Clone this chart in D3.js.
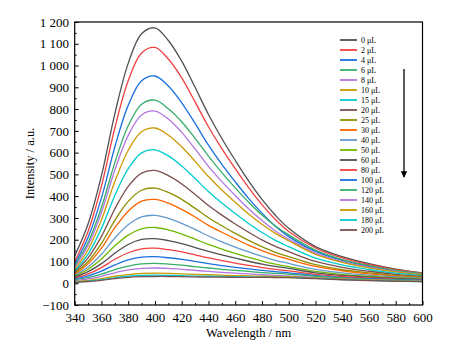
<!DOCTYPE html>
<html>
<head>
<meta charset="utf-8">
<script src="https://cdn.jsdelivr.net/npm/d3@7"></script>
<style>
  body { margin: 0; background: #fff; }
  text { font-family: "Liberation Serif", "Times New Roman", serif; fill: #000; }
</style>
</head>
<body>
<div id="container"></div>
<script>
const WIDTH = 462;
const HEIGHT = 351;
const MARGIN = {top: 22, right: 39.5, bottom: 46, left: 74.7};

const INNER_WIDTH = WIDTH - MARGIN.left - MARGIN.right;
const INNER_HEIGHT = HEIGHT - MARGIN.top - MARGIN.bottom;

// emission wavelengths (nm)
var wavelengths = [340, 350, 360, 370, 380, 390, 400, 410, 420, 430, 440,
    450, 460, 470, 480, 490, 500, 520, 540, 560, 580, 600];

// added volume, legend labels
var volumes = ["0 μL", "2 μL", "4 μL", "6 μL", "8 μL", "10 μL", "15 μL", "20 μL", "25 μL", "30 μL",
    "40 μL", "50 μL", "60 μL", "80 μL", "100 μL", "120 μL", "140 μL", "160 μL", "180 μL", "200 μL"];

// intensity (a.u.) per volume, one row per spectrum, same order as wavelengths
var intensity = [
    [125, 272, 494, 778, 1010, 1146, 1173, 1115, 1020, 900, 775, 665, 565, 470, 385, 312, 252, 168, 122, 90, 65, 48],
    [100, 238, 446, 713, 930, 1058, 1083, 1030, 943, 833, 719, 618, 526, 439, 361, 293, 238, 162, 116, 86, 62, 46],
    [88, 210, 392, 626, 817, 930, 952, 906, 829, 734, 634, 546, 466, 390, 322, 262, 214, 146, 105, 78, 56, 42],
    [80, 187, 348, 554, 723, 822, 841, 802, 742, 665, 584, 508, 438, 372, 313, 263, 222, 152, 109, 81, 59, 44],
    [72, 173, 325, 520, 679, 773, 791, 754, 693, 617, 537, 467, 403, 342, 288, 240, 202, 138, 99, 74, 54, 40],
    [62, 154, 291, 467, 611, 696, 713, 680, 627, 560, 490, 428, 372, 318, 271, 229, 195, 133, 96, 71, 52, 39],
    [56, 134, 252, 403, 526, 599, 613, 585, 539, 481, 421, 368, 320, 274, 233, 197, 168, 115, 84, 63, 46, 35],
    [50, 116, 215, 341, 445, 506, 518, 494, 456, 408, 357, 313, 272, 234, 199, 169, 145, 100, 73, 55, 41, 31],
    [45, 100, 183, 289, 376, 427, 437, 417, 385, 344, 301, 264, 229, 197, 168, 142, 122, 85, 62, 48, 36, 28],
    [40, 89, 161, 255, 331, 377, 385, 368, 339, 304, 266, 234, 204, 175, 150, 128, 110, 77, 57, 43, 33, 26],
    [36, 75, 133, 208, 269, 305, 312, 298, 275, 247, 217, 190, 166, 144, 123, 105, 91, 64, 48, 37, 29, 23],
    [32, 64, 111, 172, 221, 250, 256, 245, 226, 203, 178, 157, 137, 119, 102, 88, 76, 54, 40, 32, 25, 20],
    [28, 53, 90, 138, 178, 201, 205, 196, 182, 164, 146, 130, 115, 101, 88, 77, 68, 48, 36, 28, 22, 18],
    [24, 43, 72, 110, 140, 158, 161, 154, 144, 130, 116, 104, 92, 82, 72, 64, 57, 41, 31, 25, 19, 16],
    [20, 34, 56, 84, 107, 120, 122, 117, 110, 100, 90, 81, 73, 66, 59, 53, 48, 35, 26, 21, 17, 14],
    [16, 26, 42, 63, 79, 89, 91, 88, 83, 76, 70, 64, 59, 54, 49, 45, 42, 32, 24, 18, 15, 12],
    [12, 20, 32, 48, 61, 68, 70, 68, 64, 59, 54, 50, 46, 43, 39, 36, 34, 26, 20, 15, 12, 10],
    [8, 13, 21, 32, 40, 45, 46, 45, 43, 41, 39, 37, 35, 34, 32, 31, 30, 24, 19, 15, 12, 9],
    [6, 10, 17, 25, 32, 36, 37, 36, 35, 33, 32, 31, 30, 29, 28, 27, 27, 22, 17, 13, 10, 8],
    [4, 8, 13, 21, 27, 30, 31, 31, 30, 29, 28, 28, 27, 27, 27, 26, 26, 21, 16, 12, 9, 7]
];

var xTicks = [340, 360, 380, 400, 420, 440, 460, 480, 500, 520, 540, 560, 580, 600];
var yTicks = [-100, 0, 100, 200, 300, 400, 500, 600, 700, 800, 900, 1000, 1100, 1200];

var colors = ["#515151", "#F14040", "#1A6FDF", "#37AD6B", "#B177DE", "#CC9900",
    "#00CBCC", "#7D4E4E", "#8E8E00", "#FB6501", "#6699CC", "#6FB802"];

var translate = function (x, y) {
    return "translate(" + x + "," + y + ")";
};

var fmtY = function (v) {
    if (v < 0) return "\u2212" + Math.abs(v);
    if (v >= 1000) return Math.floor(v / 1000) + " " + String(v % 1000).padStart(3, "0");
    return String(v);
};

var createChart = function () {
    var svg = d3.select("#container")
        .append("svg")
        .attr("width", WIDTH)
        .attr("height", HEIGHT);

    var xScale = d3.scaleLinear().domain([340, 600]).range([0, INNER_WIDTH]);
    var yScale = d3.scaleLinear().domain([-100, 1200]).range([INNER_HEIGHT, 0]);

    var g = svg.append("g").attr("transform", translate(MARGIN.left, MARGIN.top));

    // minor ticks
    g.append("g")
        .attr("transform", translate(0, INNER_HEIGHT))
        .call(d3.axisBottom(xScale).tickValues(d3.range(350, 600, 20)).tickSize(-2).tickFormat(""))
        .call(function (a) { a.select(".domain").remove(); });
    g.append("g")
        .call(d3.axisLeft(yScale).tickValues(d3.range(-50, 1200, 100)).tickSize(-2).tickFormat(""))
        .call(function (a) { a.select(".domain").remove(); });

    // major ticks + labels
    g.append("g")
        .attr("transform", translate(0, INNER_HEIGHT))
        .call(d3.axisBottom(xScale).tickValues(xTicks).tickSize(-4).tickPadding(7.5))
        .call(function (a) { a.select(".domain").remove(); });
    g.append("g")
        .call(d3.axisLeft(yScale).tickValues(yTicks).tickSize(-4).tickPadding(5.7).tickFormat(fmtY))
        .call(function (a) { a.select(".domain").remove(); });

    g.selectAll(".tick text")
        .attr("font-family", "Liberation Serif")
        .attr("font-size", 13)
        .attr("fill", "#000");
    g.selectAll(".tick line").attr("stroke", "#000").attr("stroke-width", 1);

    var line = d3.line()
        .x(function (d, i) { return xScale(wavelengths[i]); })
        .y(function (d) { return yScale(d); })
        .curve(d3.curveCatmullRom);

    g.selectAll(".spectrum").data(intensity)
        .enter()
        .append("path")
        .attr("class", "spectrum")
        .attr("d", function (d) { return line(d); })
        .attr("fill", "none")
        .attr("stroke", function (d, i) { return colors[i % colors.length]; })
        .attr("stroke-width", 1.3);

    // frame
    g.append("rect")
        .attr("width", INNER_WIDTH)
        .attr("height", INNER_HEIGHT)
        .attr("fill", "none")
        .attr("stroke", "#000")
        .attr("stroke-width", 1.2);

    // legend
    var legend = svg.append("g").attr("transform", translate(340, 40));
    var item = legend.selectAll(".item").data(volumes)
        .enter()
        .append("g")
        .attr("transform", function (d, i) { return translate(0, i * 10); });
    item.append("line")
        .attr("x1", 0).attr("x2", 17)
        .attr("stroke", function (d, i) { return colors[i % colors.length]; })
        .attr("stroke-width", 1.8);
    item.append("text")
        .attr("x", 21)
        .attr("dy", "0.32em")
        .attr("font-size", 8)
        .text(function (d) { return d; });

    // arrow
    svg.append("defs").append("marker")
        .attr("id", "head")
        .attr("viewBox", "0 0 10 10")
        .attr("refX", 9).attr("refY", 5)
        .attr("markerWidth", 5).attr("markerHeight", 6)
        .attr("orient", "auto")
        .append("path")
        .attr("d", "M0,0L10,5L0,10Z")
        .attr("fill", "#000");
    svg.append("line")
        .attr("x1", 404).attr("y1", 69)
        .attr("x2", 404).attr("y2", 177)
        .attr("stroke", "#000")
        .attr("stroke-width", 1.3)
        .attr("marker-end", "url(#head)");

    // axis titles
    svg.append("text")
        .attr("x", MARGIN.left + INNER_WIDTH / 2)
        .attr("y", 337)
        .attr("text-anchor", "middle")
        .attr("font-size", 12.5)
        .text("Wavelength / nm");
    svg.append("text")
        .attr("transform", translate(34, MARGIN.top + INNER_HEIGHT / 2) + " rotate(-90)")
        .attr("text-anchor", "middle")
        .attr("font-size", 12.5)
        .text("Intensity / a.u.");
};

window.onload = createChart;
</script>
</body>
</html>
